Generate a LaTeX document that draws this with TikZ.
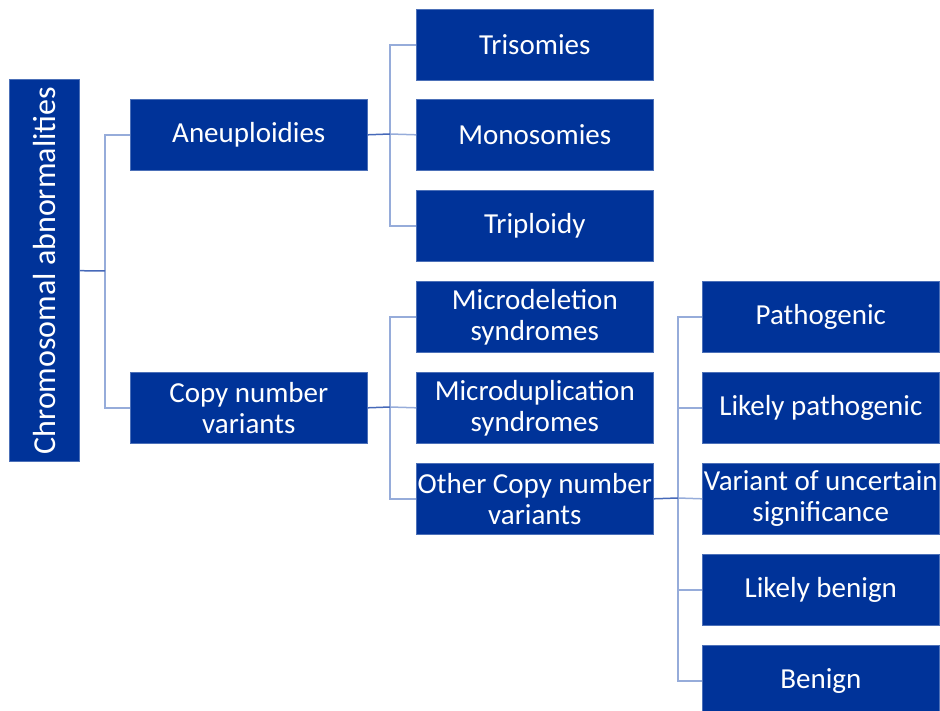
\documentclass[tikz,border=0pt]{standalone}
\usepackage{fontspec}
\setmainfont{Carlito}
\definecolor{boxblue}{RGB}{0,51,153}
\definecolor{linelight}{RGB}{150,172,218}
\definecolor{linedark}{RGB}{70,105,185}
\begin{document}
\begin{tikzpicture}[x=1pt,y=-1pt,
  box/.style={draw=boxblue!70!white,line width=0.6pt,fill=boxblue,text=white,
    minimum width=237pt,minimum height=71pt,inner sep=0pt,align=center,
    font=\fontsize{29}{31}\selectfont,anchor=north west},
  branch/.style={draw=linelight,line width=1.5pt},
  stub/.style={draw=linedark,line width=1.5pt}]
\useasboundingbox (0,0) rectangle (940,711);
% root
\node[box,minimum width=382pt,minimum height=70pt,rotate=90,anchor=south west,
  font=\fontsize{32}{34}\selectfont] (root) at (80,462) {Chromosomal abnormalities};
% level 1
\node[box] (aneu) at (130,99) {Aneuploidies};
\node[box] (cnv) at (130,372) {Copy number\\variants};
% level 2
\node[box] (tri) at (416,9) {Trisomies};
\node[box] (mono) at (416,99) {Monosomies};
\node[box] (trip) at (416,190) {Triploidy};
\node[box] (micdel) at (416,281) {Microdeletion\\syndromes};
\node[box] (micdup) at (416,372) {Microduplication\\syndromes};
\node[box] (other) at (416,463) {Other Copy number\\variants};
% level 3
\node[box] (path) at (702,281) {Pathogenic};
\node[box] (lpath) at (702,372) {Likely pathogenic};
\node[box] (vus) at (702,463) {Variant of uncertain\\significance};
\node[box] (lben) at (702,554) {Likely benign};
\node[box] (ben) at (702,645) {Benign};
% connectors: root
\coordinate (r1) at (105,271);
\draw[branch] (aneu.west) -| (r1) |- (cnv.west);
\draw[stub] (root.south) -- (r1);
% connectors: aneuploidies
\coordinate (a1) at (390,134);
\draw[branch] (tri.west) -| (a1) |- (trip.west);
\draw[branch] (a1) -- (mono.west);
\draw[stub] (aneu.east) -- (a1);
% connectors: copy number variants
\coordinate (c1) at (390,407);
\draw[branch] (micdel.west) -| (c1) |- (other.west);
\draw[branch] (c1) -- (micdup.west);
\draw[stub] (cnv.east) -- (c1);
% connectors: other copy number variants
\coordinate (o1) at (678,498);
\draw[branch] (path.west) -| (o1) |- (ben.west);
\draw[branch] (lpath.west) -| (o1);
\draw[branch] (o1) -- (vus.west);
\draw[branch] (o1 |- lben.west) -- (lben.west);
\draw[stub] (other.east) -- (o1);
\end{tikzpicture}
\end{document}
